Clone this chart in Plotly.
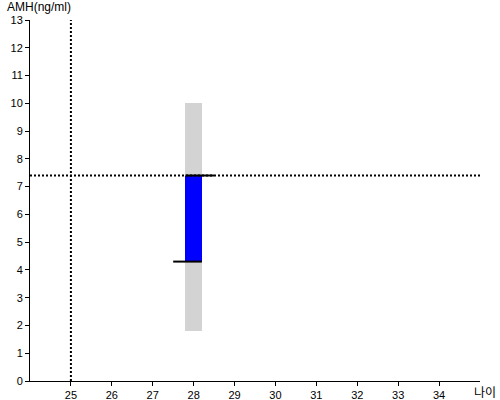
import plotly.graph_objects as go

# data
age = 28
range_low, range_high = 1.8, 10.0
amh_low, amh_high = 4.3, 7.4
low_tick_x = [27.5, 28.2]
high_tick_x = [27.8, 28.5]
ref_age = 25
ref_amh = 7.4
x_ticks = list(range(25, 35))
y_ticks = list(range(0, 14))
x_range = [24, 35]
y_range = [0, 13]

fig = go.Figure()
fig.add_trace(go.Bar(x=[age], y=[range_high - range_low], base=[range_low], width=0.4,
                     marker=dict(color="#d3d3d3", line=dict(width=0)), showlegend=False))
fig.add_trace(go.Bar(x=[age], y=[amh_high - amh_low], base=[amh_low], width=0.4,
                     marker=dict(color="#0000ff", line=dict(width=0)), showlegend=False))
fig.add_trace(go.Scatter(x=x_range, y=[ref_amh, ref_amh], mode="lines",
                         line=dict(color="black", width=2, dash="2px,2px"), showlegend=False))
fig.add_trace(go.Scatter(x=[ref_age, ref_age], y=y_range, mode="lines",
                         line=dict(color="black", width=2, dash="2px,2px"), showlegend=False))
fig.add_trace(go.Scatter(x=high_tick_x, y=[amh_high, amh_high], mode="lines",
                         line=dict(color="black", width=2), showlegend=False))
fig.add_trace(go.Scatter(x=low_tick_x, y=[amh_low, amh_low], mode="lines",
                         line=dict(color="black", width=2), showlegend=False))

font = dict(family="Arial, Liberation Sans, Noto Sans CJK KR", size=11, color="black")
fig.update_layout(
    template="none",
    width=500, height=400,
    margin=dict(l=30, r=20, t=20, b=19),
    plot_bgcolor="white", paper_bgcolor="white",
    font=font, barmode="overlay", bargap=0,
    xaxis=dict(range=x_range, tickvals=x_ticks, showgrid=False, zeroline=False,
               showline=True, linecolor="black", linewidth=1, ticks="outside",
               ticklen=4, tickcolor="black", tickfont=font, automargin=False),
    yaxis=dict(range=y_range, tickvals=y_ticks, showgrid=False, zeroline=False,
               showline=True, linecolor="black", linewidth=1, ticks="outside",
               ticklen=4, tickcolor="black", tickfont=font, automargin=False),
    annotations=[
        dict(text="AMH(ng/ml)", xref="paper", yref="paper", x=0, y=1, xshift=-25, yshift=4,
             xanchor="left", yanchor="bottom", showarrow=False,
             font=dict(family="Arial, Liberation Sans", size=12, color="black")),
        dict(text="나이", xref="paper", yref="paper", x=1, y=0, xshift=-8, yshift=0,
             xanchor="left", yanchor="top", showarrow=False,
             font=dict(family="Noto Sans CJK KR", size=12, color="black")),
    ],
)
fig.write_html("out.html", config={"displayModeBar": False},
               post_script="document.body.style.margin='0';")
